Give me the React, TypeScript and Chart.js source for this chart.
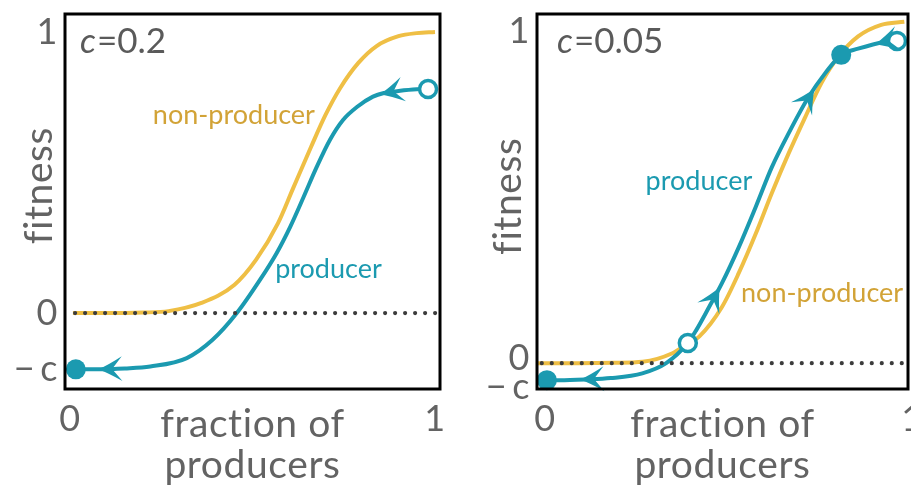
import React, { useEffect, useRef } from "react";
import { Chart, registerables } from "chart.js";

Chart.register(...registerables);

const FONT = "Lato, 'Open Sans', sans-serif";
const GRAY = "#636363";
const TEAL = "#1b9ab0";
const GOLD = "#efbf45";
const GOLD_TEXT = "#d2a337";
const DOT = "#3c3c3c";

// ---- left panel, c = 0.2 ----
const leftCost = "0.2";
const leftNonProducerX = [0.008, 0.1, 0.2, 0.27, 0.36, 0.45, 0.51, 0.57, 0.61, 0.66, 0.7, 0.74, 0.79, 0.84, 0.9, 0.95, 1.0];
const leftNonProducerY = [0, 0, 0.002, 0.007, 0.036, 0.1, 0.19, 0.32, 0.44, 0.59, 0.705, 0.8, 0.89, 0.95, 0.985, 0.996, 1.0];
const leftProducerX = [0.016, 0.08, 0.15, 0.22, 0.32, 0.39, 0.457, 0.52, 0.566, 0.603, 0.64, 0.676, 0.712, 0.748, 0.786, 0.83, 0.86, 0.9, 0.95, 0.981];
const leftProducerY = [-0.2, -0.2, -0.197, -0.19, -0.16, -0.096, 0.0, 0.117, 0.213, 0.306, 0.413, 0.52, 0.616, 0.687, 0.733, 0.77, 0.783, 0.79, 0.796, 0.797];
const leftStableX = [0.016];
const leftStableY = [-0.2];
const leftUnstableX = [0.981];
const leftUnstableY = [0.797];
const leftArrowX = [0.077, 0.849];
const leftArrowDir = [-1, -1];
const leftZeroX = [0.014, 1.02];
const leftYTickValues = [-0.2, 0, 1];

// ---- right panel, c = 0.05 ----
const rightCost = "0.05";
const rightNonProducerX = [-0.011, 0.1, 0.2, 0.277, 0.358, 0.4, 0.431, 0.493, 0.539, 0.585, 0.629, 0.675, 0.72, 0.764, 0.81, 0.864, 0.927, 0.99];
const rightNonProducerY = [0, 0, 0.001, 0.004, 0.029, 0.057, 0.078, 0.165, 0.265, 0.38, 0.5, 0.617, 0.723, 0.823, 0.9, 0.96, 0.994, 1.003];
const rightProducerX = [0.016, 0.05, 0.12, 0.19, 0.276, 0.341, 0.4, 0.423, 0.458, 0.493, 0.539, 0.585, 0.629, 0.675, 0.729, 0.775, 0.818, 0.864, 0.935, 0.97];
const rightProducerY = [-0.05, -0.05, -0.048, -0.044, -0.03, 0.0, 0.059, 0.097, 0.165, 0.235, 0.341, 0.459, 0.576, 0.676, 0.782, 0.853, 0.906, 0.924, 0.944, 0.947];
const rightStableX = [0.016, 0.818];
const rightStableY = [-0.05, 0.906];
const rightUnstableX = [0.4, 0.97];
const rightUnstableY = [0.059, 0.947];
const rightArrowX = [0.106, 0.487, 0.745, 0.91];
const rightArrowDir = [-1, 1, 1, -1];
const rightZeroX = [0.002, 1.0];
const rightYTickValues = [-0.072, 0.013, 0.974];

// shared tick labels / titles (ZWNJ keeps the font from forming ligatures)
const xTickValues = [0, 1];
const xTickLabels = ["0", "1"];
const yTickLabels = ["\u2212\u2009c", "0", "1"];
const xTitle = ["frac\u200Ction of", "producers"];
const yTitle = "f\u200Citness";

type Pt = { x: number; y: number };
const zip = (xs: number[], ys: number[]): Pt[] => xs.map((x, i) => ({ x, y: ys[i] }));

interface Panel {
  cost: string;
  xMin: number;
  xMax: number;
  yMin: number;
  yMax: number;
  nonProducer: Pt[];
  producer: Pt[];
  zero: Pt[];
  stable: Pt[];
  unstable: Pt[];
  arrows: { x: number; dir: number }[];
  yTicks: number[];
  producerLabel: Pt;
  nonProducerLabel: Pt;
  yAxisWidth: number;
  padRight: number;
  yTitlePad: number;
  yTitleLead: string;
  xLabelOffset: number;
  cOffsetX: number;
}

const panels: Panel[] = [
  {
    cost: leftCost,
    xMin: -0.0137,
    xMax: 1.0137,
    yMin: -0.27,
    yMax: 1.064,
    nonProducer: zip(leftNonProducerX, leftNonProducerY),
    producer: zip(leftProducerX, leftProducerY),
    zero: leftZeroX.map((x) => ({ x, y: 0 })),
    stable: zip(leftStableX, leftStableY),
    unstable: zip(leftUnstableX, leftUnstableY),
    arrows: leftArrowX.map((x, i) => ({ x, dir: leftArrowDir[i] })),
    yTicks: leftYTickValues,
    producerLabel: { x: 0.562, y: 0.125 },
    nonProducerLabel: { x: 0.227, y: 0.673 },
    yAxisWidth: 65,
    padRight: 20,
    yTitlePad: 16,
    yTitleLead: "\u00a0\u00a0\u00a0",
    xLabelOffset: 0,
    cOffsetX: 15,
  },
  {
    cost: rightCost,
    xMin: -0.011,
    xMax: 1.0,
    yMin: -0.076,
    yMax: 1.026,
    nonProducer: zip(rightNonProducerX, rightNonProducerY),
    producer: zip(rightProducerX, rightProducerY),
    zero: rightZeroX.map((x) => ({ x, y: 0 })),
    stable: zip(rightStableX, rightStableY),
    unstable: zip(rightUnstableX, rightUnstableY),
    arrows: rightArrowX.map((x, i) => ({ x, dir: rightArrowDir[i] })),
    yTicks: rightYTickValues,
    producerLabel: { x: 0.285, y: 0.509 },
    nonProducerLabel: { x: 0.545, y: 0.179 },
    yAxisWidth: 77,
    padRight: 10,
    yTitlePad: 25,
    yTitleLead: "\u00a0",
    xLabelOffset: 4,
    cOffsetX: 20,
  },
];

function yAt(data: Pt[], x: number): number {
  for (let i = 0; i < data.length - 1; i++) {
    const a = data[i];
    const b = data[i + 1];
    if (x >= a.x && x <= b.x) {
      const t = (x - a.x) / (b.x - a.x);
      return a.y + t * (b.y - a.y);
    }
  }
  return x < data[0].x ? data[0].y : data[data.length - 1].y;
}

function makeConfig(p: Panel): any {
  const spacing = {
    id: "spacing",
    beforeDraw(chart: any) {
      chart.ctx.letterSpacing = "0.6px";
    },
    afterDraw(chart: any) {
      chart.ctx.letterSpacing = "0px";
    },
  };

  const decorations = {
    id: "decorations",
    afterDatasetsDraw(chart: any) {
      const ctx = chart.ctx;
      const xs = chart.scales.x;
      const ys = chart.scales.y;
      const ca = chart.chartArea;
      ctx.save();
      ctx.letterSpacing = "0px";
      // arrowheads along the producer curve
      ctx.fillStyle = TEAL;
      for (const a of p.arrows) {
        const px = xs.getPixelForValue(a.x);
        const py = ys.getPixelForValue(yAt(p.producer, a.x));
        const bx = a.x - a.dir * 0.025;
        const qx = xs.getPixelForValue(bx);
        const qy = ys.getPixelForValue(yAt(p.producer, bx));
        let ux = px - qx;
        let uy = py - qy;
        const len = Math.hypot(ux, uy) || 1;
        ux /= len;
        uy /= len;
        const nx = -uy;
        const ny = ux;
        const L = 24;
        const W = 12.5;
        const N = 14;
        const b1x = px - ux * L + nx * W;
        const b1y = py - uy * L + ny * W;
        const b2x = px - ux * L - nx * W;
        const b2y = py - uy * L - ny * W;
        ctx.beginPath();
        ctx.moveTo(px, py);
        ctx.quadraticCurveTo(px - ux * L * 0.45 + nx * W * 0.35, py - uy * L * 0.45 + ny * W * 0.35, b1x, b1y);
        ctx.lineTo(px - ux * N, py - uy * N);
        ctx.lineTo(b2x, b2y);
        ctx.quadraticCurveTo(px - ux * L * 0.45 - nx * W * 0.35, py - uy * L * 0.45 - ny * W * 0.35, px, py);
        ctx.closePath();
        ctx.fill();
      }
      // frame
      ctx.strokeStyle = "#000";
      ctx.lineWidth = 3;
      ctx.strokeRect(ca.left, ca.top, ca.right - ca.left, ca.bottom - ca.top);
      // cost label
      ctx.fillStyle = "#5a5a5a";
      ctx.textAlign = "left";
      ctx.textBaseline = "alphabetic";
      const cx = ca.left + p.cOffsetX;
      const cy = ca.top + 39;
      ctx.font = `italic 35px ${FONT}`;
      ctx.fillText("c", cx, cy);
      const w = ctx.measureText("c").width;
      ctx.font = `35px ${FONT}`;
      ctx.fillText("=" + p.cost, cx + w + 1, cy);
      // curve labels
      ctx.font = `27px ${FONT}`;
      ctx.fillStyle = TEAL;
      ctx.fillText("producer", xs.getPixelForValue(p.producerLabel.x), ys.getPixelForValue(p.producerLabel.y));
      ctx.fillStyle = GOLD_TEXT;
      ctx.fillText("non-producer", xs.getPixelForValue(p.nonProducerLabel.x), ys.getPixelForValue(p.nonProducerLabel.y));
      ctx.restore();
    },
  };

  return {
    type: "line",
    data: {
      datasets: [
        {
          label: "unstable",
          data: p.unstable,
          showLine: false,
          pointRadius: 8.5,
          pointBorderWidth: 3.5,
          pointBackgroundColor: "#ffffff",
          pointBorderColor: TEAL,
          clip: false,
        },
        {
          label: "stable",
          data: p.stable,
          showLine: false,
          pointRadius: 10,
          pointBorderWidth: 0,
          pointBackgroundColor: TEAL,
          pointBorderColor: TEAL,
          clip: false,
        },
        {
          label: "zero",
          data: p.zero,
          borderColor: DOT,
          borderWidth: 4.2,
          borderDash: [0, 10],
          borderCapStyle: "round",
          pointRadius: 0,
        },
        {
          label: "producer",
          data: p.producer,
          borderColor: TEAL,
          borderWidth: 4,
          pointRadius: 0,
          cubicInterpolationMode: "monotone",
        },
        {
          label: "non-producer",
          data: p.nonProducer,
          borderColor: GOLD,
          borderWidth: 4,
          pointRadius: 0,
          cubicInterpolationMode: "monotone",
        },
      ],
    },
    options: {
      animation: false,
      responsive: false,
      devicePixelRatio: 1,
      events: [],
      layout: { padding: { left: 0, top: 14, right: p.padRight, bottom: 0 } },
      plugins: { legend: { display: false }, tooltip: { enabled: false } },
      scales: {
        x: {
          type: "linear",
          min: p.xMin,
          max: p.xMax,
          afterBuildTicks: (s: any) => {
            s.ticks = xTickValues.map((v) => ({ value: v }));
          },
          afterFit: (s: any) => {
            s.height = 105;
            s.paddingLeft = 0;
            s.paddingRight = 0;
          },
          grid: { display: false, drawTicks: false },
          border: { display: false },
          ticks: {
            autoSkip: false,
            maxRotation: 0,
            padding: 9,
            labelOffset: p.xLabelOffset,
            color: GRAY,
            font: { family: FONT, size: 36 },
            callback: (_v: any, i: number) => xTickLabels[i],
          },
          title: {
            display: true,
            text: xTitle,
            color: GRAY,
            font: { family: FONT, size: 39, lineHeight: 41 / 39 },
            padding: { top: 0, bottom: 8 },
          },
        },
        y: {
          type: "linear",
          min: p.yMin,
          max: p.yMax,
          afterBuildTicks: (s: any) => {
            s.ticks = p.yTicks.map((v) => ({ value: v }));
          },
          afterFit: (s: any) => {
            s.width = p.yAxisWidth;
            s.paddingTop = 0;
            s.paddingBottom = 0;
          },
          grid: { display: false, drawTicks: false },
          border: { display: false },
          ticks: {
            autoSkip: false,
            padding: 7,
            color: GRAY,
            font: { family: FONT, size: 36 },
            callback: (_v: any, i: number) => yTickLabels[i],
          },
          title: {
            display: true,
            text: p.yTitleLead + yTitle,
            color: GRAY,
            font: { family: FONT, size: 39, lineHeight: 1.2 },
            padding: { top: p.yTitlePad, bottom: 0 },
          },
        },
      },
    },
    plugins: [spacing, decorations],
  };
}

function PanelChart({ panel, left }: { panel: Panel; left: number }) {
  const ref = useRef<HTMLCanvasElement | null>(null);
  useEffect(() => {
    if (!ref.current) return;
    const chart = new Chart(ref.current, makeConfig(panel));
    return () => chart.destroy();
  }, [panel]);
  return (
    <canvas
      ref={ref}
      width={460}
      height={494}
      style={{ position: "absolute", left, top: 0, width: 460, height: 494 }}
    />
  );
}

export default function App() {
  return (
    <div
      style={{
        position: "fixed",
        left: 0,
        top: 0,
        width: 911,
        height: 494,
        overflow: "hidden",
        background: "#ffffff",
      }}
    >
      <PanelChart panel={panels[0]} left={0} />
      <PanelChart panel={panels[1]} left={460} />
    </div>
  );
}
